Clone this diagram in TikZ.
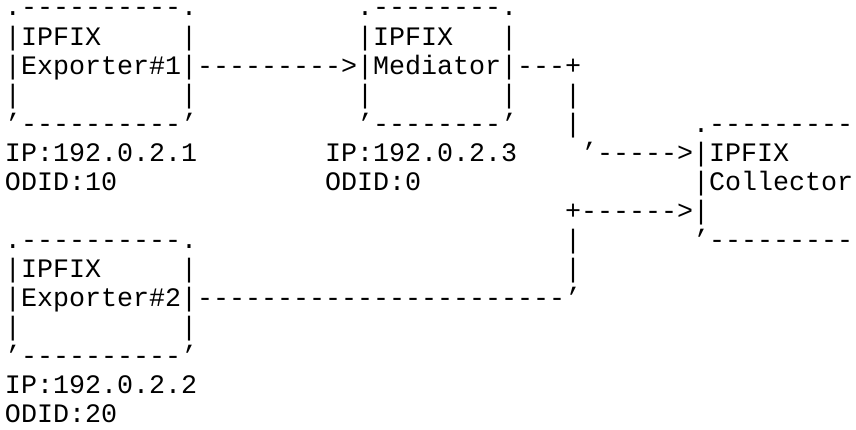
\documentclass[tikz,border=0pt]{standalone}
\usepackage{fontspec}
\setmonofont{Liberation Mono}
\tikzset{txt/.style={anchor=base west, inner sep=0pt, outer sep=0pt, text=black,
  font=\ttfamily\fontsize{26.67}{29}\selectfont}}
\newcommand\asc[4]{\node[txt] (#1) at ({5+16*#2},{414-29.07*#3}) {#4};}
\begin{document}
\begin{tikzpicture}[x=1pt,y=1pt]
\useasboundingbox (0,0) rectangle (856,430);
% line 0
\asc{a0}{0}{0}{.----------.}
\asc{b0}{22}{0}{.--------.}
% line 1
\asc{a1}{0}{1}{|IPFIX}
\asc{a1r}{11}{1}{|}
\asc{b1}{22}{1}{|IPFIX}
\asc{b1r}{31}{1}{|}
% line 2
\asc{a2}{0}{2}{|Exporter\#1|--------->|Mediator|---+}
% line 3
\asc{a3}{0}{3}{|}
\asc{a3r}{11}{3}{|}
\asc{b3}{22}{3}{|}
\asc{b3r}{31}{3}{|}
\asc{c3}{35}{3}{|}
% line 4
\asc{a4}{0}{4}{’----------’}
\asc{b4}{22}{4}{’--------’}
\asc{c4}{35}{4}{|}
\asc{d4}{43}{4}{.---------}
% line 5
\asc{a5}{0}{5}{IP:192.0.2.1}
\asc{b5}{20}{5}{IP:192.0.2.3}
\asc{c5}{36}{5}{’----->|IPFIX}
% line 6
\asc{a6}{0}{6}{ODID:10}
\asc{b6}{20}{6}{ODID:0}
\asc{d6}{43}{6}{|Collector}
% line 7
\asc{c7}{35}{7}{+------>|}
% line 8
\asc{e8}{0}{8}{.----------.}
\asc{c8}{35}{8}{|}
\asc{d8}{43}{8}{’---------}
% line 9
\asc{e9}{0}{9}{|IPFIX}
\asc{e9r}{11}{9}{|}
\asc{c9}{35}{9}{|}
% line 10
\asc{e10}{0}{10}{|Exporter\#2|-----------------------’}
% line 11
\asc{e11}{0}{11}{|}
\asc{e11r}{11}{11}{|}
% line 12
\asc{e12}{0}{12}{’----------’}
% line 13
\asc{e13}{0}{13}{IP:192.0.2.2}
% line 14
\asc{e14}{0}{14}{ODID:20}
\end{tikzpicture}
\end{document}
